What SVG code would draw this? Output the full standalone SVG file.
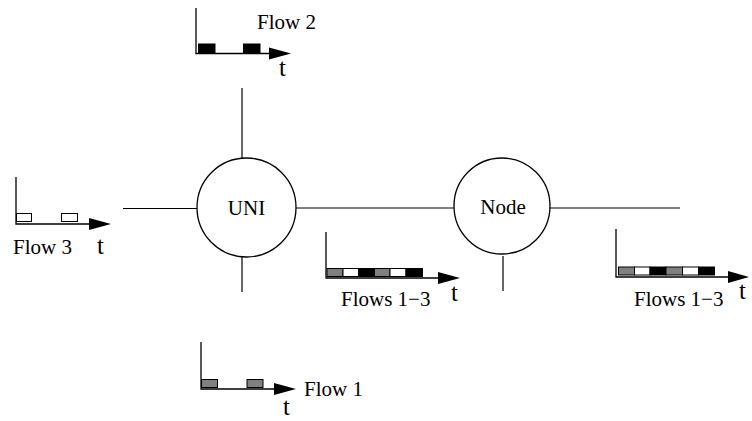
<svg xmlns="http://www.w3.org/2000/svg" width="752" height="421" viewBox="0 0 752 421">
  <style>
    .ln { stroke: #000; stroke-width: 1.2; fill: none; }
    .ax { stroke: #000; stroke-width: 1.3; fill: none; }
    .nd { stroke: #000; stroke-width: 1.3; fill: #fff; }
    .lbl { font-family: "Liberation Serif", Tinos, "Times New Roman", "DejaVu Serif", serif; font-size: 21px; fill: #000; }
    .tl { font-family: "Liberation Serif", Tinos, "Times New Roman", "DejaVu Serif", serif; font-size: 25px; fill: #000; }
    .blk { fill: #000; stroke: #000; stroke-width: 1; }
    .gry { fill: #808080; stroke: #000; stroke-width: 1; }
    .wht { fill: #fff; stroke: #000; stroke-width: 1; }
    .arr { fill: #000; }
  </style>

  <!-- links -->
  <g id="connectors">
    <line class="ln" x1="123" y1="208.5" x2="197" y2="208.5"/>
    <line class="ln" x1="296" y1="208" x2="454" y2="208"/>
    <line class="ln" x1="550" y1="208" x2="680" y2="208"/>
    <line class="ln" x1="242" y1="88" x2="242" y2="158"/>
    <line class="ln" x1="242" y1="257" x2="242" y2="292"/>
    <line class="ln" x1="503" y1="256" x2="503" y2="291"/>
  </g>

  <!-- switching nodes -->
  <g id="uni">
    <circle class="nd" cx="246.5" cy="207.5" r="49.5"/>
    <text class="lbl" x="246.5" y="215" text-anchor="middle">UNI</text>
  </g>
  <g id="node">
    <circle class="nd" cx="502" cy="206" r="48"/>
    <text class="lbl" x="503" y="214" text-anchor="middle">Node</text>
  </g>

  <!-- Flow 2 timeline -->
  <g id="flow2">
    <polyline class="ax" points="196,8 196,53.5 270,53.5"/>
    <polygon class="arr" points="269,47.5 291,53.5 269,59.5"/>
    <rect class="blk" x="198.5" y="44" width="16.5" height="8.5"/>
    <rect class="blk" x="243.5" y="44" width="16.5" height="8.5"/>
    <text class="lbl" x="257" y="29">Flow 2</text>
    <text class="tl" x="279" y="76">t</text>
  </g>

  <!-- Flow 3 timeline -->
  <g id="flow3">
    <polyline class="ax" points="16,177 16,224 90,224"/>
    <polygon class="arr" points="89,218 111,224 89,230"/>
    <rect class="wht" x="16.5" y="213.5" width="15" height="8"/>
    <rect class="wht" x="61.5" y="213.5" width="16" height="8"/>
    <text class="lbl" x="13" y="254">Flow 3</text>
    <text class="tl" x="97" y="254">t</text>
  </g>

  <!-- Flow 1 timeline -->
  <g id="flow1">
    <polyline class="ax" points="201,342 201,389 275,389"/>
    <polygon class="arr" points="274,383 296,389 274,395"/>
    <rect class="gry" x="201.5" y="379.5" width="16" height="8"/>
    <rect class="gry" x="247" y="379.5" width="16" height="8"/>
    <text class="lbl" x="304" y="396">Flow 1</text>
    <text class="tl" x="283" y="415">t</text>
  </g>

  <!-- multiplexed flows after UNI -->
  <g id="flows-mid">
    <polyline class="ax" points="326,232 326,278 439,278"/>
    <polygon class="arr" points="438,272 460,278 438,284"/>
    <rect class="gry" x="327" y="268.5" width="16" height="8"/>
    <rect class="wht" x="343" y="268.5" width="15.5" height="8"/>
    <rect class="blk" x="358.5" y="268.5" width="16" height="8"/>
    <rect class="gry" x="374.5" y="268.5" width="15.5" height="8"/>
    <rect class="wht" x="390" y="268.5" width="16" height="8"/>
    <rect class="blk" x="406" y="268.5" width="16.5" height="8"/>
    <text class="lbl" x="341" y="306">Flows 1−3</text>
    <text class="tl" x="451" y="301">t</text>
  </g>

  <!-- multiplexed flows after Node -->
  <g id="flows-out">
    <polyline class="ax" points="616,229 616,277 729,277"/>
    <polygon class="arr" points="728,271 749,277 728,283"/>
    <rect class="gry" x="618.5" y="267" width="16" height="8"/>
    <rect class="wht" x="634.5" y="267" width="15.5" height="8"/>
    <rect class="blk" x="650" y="267" width="16" height="8"/>
    <rect class="gry" x="666" y="267" width="16.5" height="8"/>
    <rect class="wht" x="682.5" y="267" width="16" height="8"/>
    <rect class="blk" x="698.5" y="267" width="16" height="8"/>
    <text class="lbl" x="634" y="306">Flows 1−3</text>
    <text class="tl" x="739" y="299">t</text>
  </g>
</svg>
